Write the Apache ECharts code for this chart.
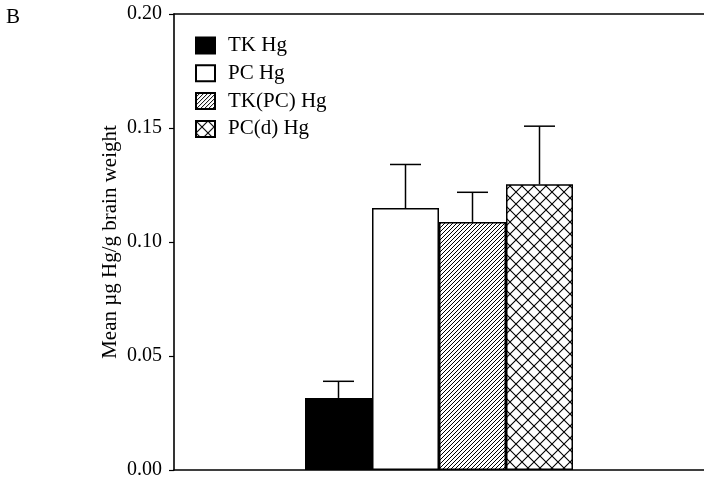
<!DOCTYPE html>
<html>
<head>
<meta charset="utf-8">
<script src="https://cdn.jsdelivr.net/npm/echarts@6/dist/echarts.min.js"></script>
<style>
  html, body { margin: 0; padding: 0; background: #fff; }
  #chart { width: 704px; height: 480px; }
</style>
</head>
<body>
<div id="chart"></div>
<script>
// Brain mercury by treatment group
const groups = ['TK Hg', 'PC Hg', 'TK(PC) Hg', 'PC(d) Hg'];
const means = [0.0316, 0.1149, 0.1088, 0.1253];
const sds = [0.0073, 0.0191, 0.0130, 0.0255];
const category = ['B'];
const yTicks = [0, 0.05, 0.10, 0.15, 0.20];

const FONT = '"Liberation Serif", "DejaVu Serif", serif';
const BAR_W = 67;

// Fill patterns drawn on small canvas tiles
function tile(size, draw) {
  const c = document.createElement('canvas');
  c.width = size; c.height = size;
  const ctx = c.getContext('2d');
  ctx.fillStyle = '#fff';
  ctx.fillRect(0, 0, size, size);
  ctx.strokeStyle = '#000';
  draw(ctx, size);
  return { image: c, repeat: 'repeat' };
}
const hatch = tile(4, (ctx, s) => {
  ctx.lineWidth = 1;
  ctx.beginPath();
  ctx.moveTo(-1, s + 1); ctx.lineTo(s + 1, -1);
  ctx.moveTo(-1, 1); ctx.lineTo(1, -1);
  ctx.moveTo(s - 1, s + 1); ctx.lineTo(s + 1, s - 1);
  ctx.stroke();
});
const crossHatch = tile(12, (ctx, s) => {
  ctx.lineWidth = 1.1;
  ctx.beginPath();
  ctx.moveTo(0, 0); ctx.lineTo(s, s);
  ctx.moveTo(0, s); ctx.lineTo(s, 0);
  ctx.stroke();
});
const fills = ['#000', '#fff', hatch, crossHatch];

const barSeries = groups.map((name, i) => ({
  name: name,
  type: 'bar',
  barWidth: BAR_W,
  barGap: '0%',
  data: [means[i]],
  itemStyle: { color: fills[i], borderColor: '#000', borderWidth: 1.5 },
  z: 2
}));

// One-sided error bars (mean + SD) placed over each bar
const errData = groups.map((g, i) => [0, means[i], sds[i], i]);
const errSeries = {
  type: 'custom',
  data: errData,
  z: 3,
  silent: true,
  renderItem: function (params, api) {
    const idx = api.value(3);
    const top = api.coord([api.value(0), api.value(1)]);
    const hi = api.coord([api.value(0), api.value(1) + api.value(2)]);
    const x = top[0] + (idx - (groups.length - 1) / 2) * BAR_W;
    const capHalf = 15.5;
    const style = { stroke: '#000', lineWidth: 1.5, fill: null };
    return {
      type: 'group',
      children: [
        { type: 'line', shape: { x1: x, y1: top[1], x2: x, y2: hi[1] }, style: style },
        { type: 'line', shape: { x1: x - capHalf, y1: hi[1], x2: x + capHalf, y2: hi[1] }, style: style }
      ]
    };
  }
};

const chart = echarts.init(document.getElementById('chart'), null, { renderer: 'canvas' });
chart.setOption({
  animation: false,
  backgroundColor: '#fff',
  title: {
    text: 'B', left: 1, top: 2,
    textStyle: { fontFamily: FONT, fontSize: 21, fontWeight: 'normal', color: '#000' }
  },
  legend: {
    orient: 'vertical',
    left: 190, top: 30,
    icon: 'rect',
    itemWidth: 19, itemHeight: 16, itemGap: 6.8,
    textStyle: { fontFamily: FONT, fontSize: 21, color: '#000', padding: [0, 0, 0, 8] },
    data: groups
  },
  grid: { left: 174, right: 0, top: 14, bottom: 5, containLabel: false },
  xAxis: [
    {
      type: 'category', data: category, position: 'bottom',
      axisLine: { lineStyle: { color: '#000', width: 1.6 } },
      axisTick: { show: false }, axisLabel: { show: false }, splitLine: { show: false }
    },
    {
      type: 'category', data: category, position: 'top',
      axisLine: { lineStyle: { color: '#000', width: 1.6 } },
      axisTick: { show: false }, axisLabel: { show: false }, splitLine: { show: false }
    }
  ],
  yAxis: {
    type: 'value', min: yTicks[0], max: yTicks[yTicks.length - 1], interval: 0.05,
    name: 'Mean µg Hg/g brain weight',
    nameLocation: 'middle', nameGap: 53, nameMoveOverlap: false,
    nameTextStyle: { fontFamily: FONT, fontSize: 21, color: '#000' },
    axisLine: { show: true, lineStyle: { color: '#000', width: 1.6 } },
    axisTick: { show: true, inside: false, length: 5, lineStyle: { color: '#000', width: 1.2 } },
    axisLabel: {
      margin: 12, fontFamily: FONT, fontSize: 20, color: '#000',
      formatter: v => v.toFixed(2)
    },
    splitLine: { show: false }
  },
  series: barSeries.concat([errSeries])
});
</script>
</body>
</html>
